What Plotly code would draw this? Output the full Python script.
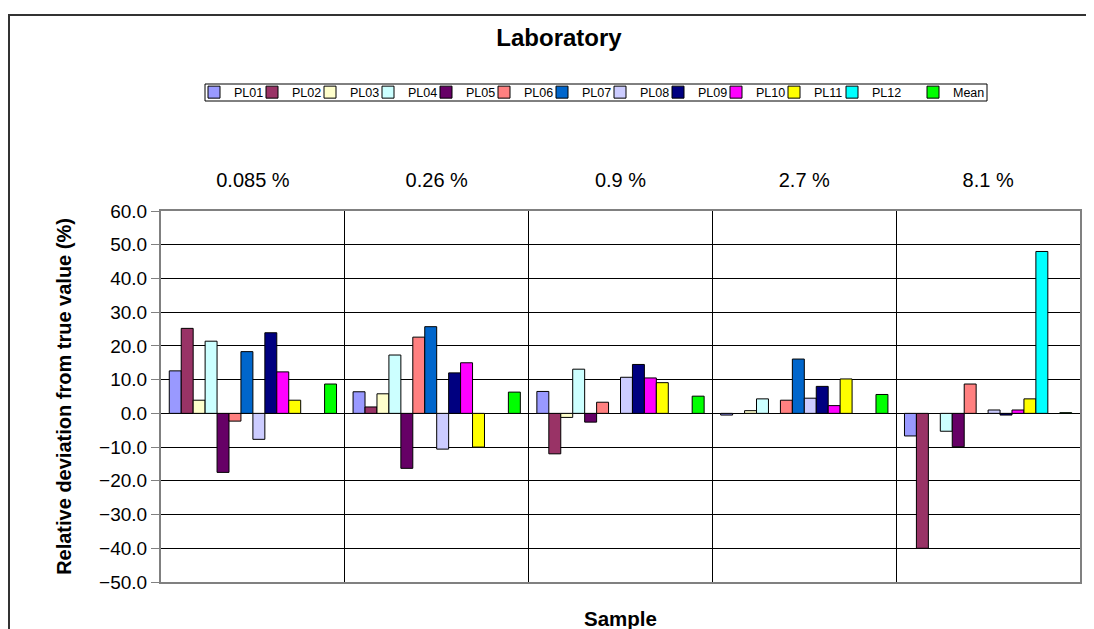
import plotly.graph_objects as go

categories = ["0.085 %", "0.26 %", "0.9 %", "2.7 %", "8.1 %"]

series_names = ["PL01", "PL02", "PL03", "PL04", "PL05", "PL06", "PL07",
                "PL08", "PL09", "PL10", "PL11", "PL12", " ", "Mean"]

PL01 = [12.6, 6.4, 6.5, -0.5, -6.7]
PL02 = [25.2, 1.9, -12.0, None, -40.0]
PL03 = [3.9, 5.8, -1.2, 0.8, None]
PL04 = [21.4, 17.3, 13.1, 4.3, -5.3]
PL05 = [-17.5, -16.3, -2.6, None, -9.9]
PL06 = [-2.3, 22.6, 3.3, 3.9, 8.7]
PL07 = [18.3, 25.7, None, 16.1, None]
PL08 = [-7.7, -10.6, 10.7, 4.5, 1.0]
PL09 = [23.9, 12.0, 14.5, 8.0, -0.5]
PL10 = [12.3, 15.0, 10.5, 2.3, 1.0]
PL11 = [3.9, -10.0, 9.1, 10.2, 4.3]
PL12 = [None, None, None, None, 48.0]
BLANK = [None, None, None, None, None]
MEAN = [8.7, 6.3, 5.1, 5.6, 0.2]

series_values = [PL01, PL02, PL03, PL04, PL05, PL06, PL07, PL08, PL09,
                 PL10, PL11, PL12, BLANK, MEAN]

colors = ["#9999FF", "#993366", "#FFFFCC", "#CCFFFF", "#660066", "#FF8080",
          "#0066CC", "#CCCCFF", "#000080", "#FF00FF", "#FFFF00", "#00FFFF",
          "rgba(0,0,0,0)", "#00FF00"]

y_ticks = [-50, -40, -30, -20, -10, 0, 10, 20, 30, 40, 50, 60]

FONT = "Arial, Liberation Sans, sans-serif"

fig = go.Figure()
for name, vals, col in zip(series_names, series_values, colors):
    blank = name.strip() == ""
    fig.add_trace(go.Bar(
        x=categories, y=vals, name=name,
        legend="legend2" if name == "Mean" else "legend",
        marker=dict(color=col,
                    line=dict(color="rgba(0,0,0,0)" if blank else "#000000",
                              width=0 if blank else 1)),
    ))

# page is offset by the 8px body margin
OFF = 8
PAGE_W, PAGE_H = 1094, 629
W, H = PAGE_W - OFF, PAGE_H - OFF
# plot area in page pixels
L, R, T, B = 161, 1080, 211, 582
pw, ph = R - L, B - T


def px(x):
    return (x - L) / pw


def py(y):
    return (B - y) / ph


fig.update_layout(
    width=W, height=H,
    margin=dict(l=L - OFF, r=PAGE_W - R, t=T - OFF, b=PAGE_H - B, pad=0),
    paper_bgcolor="white", plot_bgcolor="white",
    font=dict(family=FONT, color="#000000", size=19),
    barmode="group", bargap=0.09, bargroupgap=0,
    title=dict(text="<b>Laboratory</b>", x=px(559), xref="paper", xanchor="center",
               y=1 - (38 - OFF) / H, yanchor="middle", font=dict(size=24)),
    showlegend=True,
    legend=dict(orientation="h", x=px(194), xanchor="left", y=py(92.5),
                yanchor="middle", borderwidth=0, bgcolor="rgba(0,0,0,0)",
                font=dict(size=12.5), itemwidth=30, entrywidth=13,
                traceorder="normal", tracegroupgap=0),
    legend2=dict(orientation="h", x=px(913), xanchor="left", y=py(92.5),
                 yanchor="middle", borderwidth=0, bgcolor="rgba(0,0,0,0)",
                 font=dict(size=12.5), itemwidth=30),
    xaxis=dict(type="category", side="top", showgrid=True, gridcolor="#000000",
               gridwidth=1, tickson="boundaries", ticks="", showline=True,
               linecolor="#808080", linewidth=2, mirror=True,
               ticklabelstandoff=14, tickfont=dict(size=20)),
    yaxis=dict(range=[-50, 60], tickvals=y_ticks, tickformat=".1f",
               ticks="outside", ticklen=8, tickcolor="#808080", showline=True,
               linecolor="#808080", linewidth=2, mirror=True, showgrid=True,
               gridcolor="#000000", gridwidth=1, zeroline=True,
               zerolinecolor="#000000", zerolinewidth=1,
               tickfont=dict(size=19),
               title=dict(text="<b>Relative deviation from true value (%)</b>",
                          font=dict(size=20), standoff=22)),
    annotations=[dict(text="<b>Sample</b>", x=px(620), y=py(618), xref="paper",
                      yref="paper", showarrow=False, font=dict(size=20.5),
                      xanchor="center", yanchor="middle")],
    shapes=[
        dict(type="rect", xref="paper", yref="paper",
             x0=px(9), x1=px(1110), y0=py(15), y1=py(650),
             line=dict(color="#333333", width=2), fillcolor="rgba(0,0,0,0)",
             layer="below"),
        dict(type="rect", xref="paper", yref="paper",
             x0=px(205), x1=px(987), y0=py(84), y1=py(101),
             line=dict(color="#000000", width=1), fillcolor="rgba(0,0,0,0)",
             layer="below"),
    ],
)

fig.write_html("out.html")
